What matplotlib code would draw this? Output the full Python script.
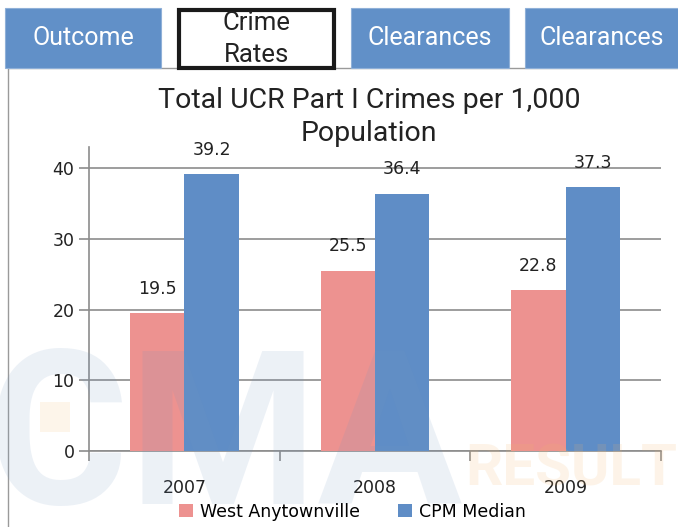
import matplotlib.pyplot as plt
import numpy as np
from matplotlib.patches import Rectangle

# data
years = ["2007", "2008", "2009"]
west_anytownville = [19.5, 25.5, 22.8]
cpm_median = [39.2, 36.4, 37.3]
tab_labels = ["Outcome", "Crime\nRates", "Clearances", "Clearances"]

RED = "#ED9290"
BLUE = "#5F8DC6"
GRID = "#8C8C8C"
NARROW = ["Roboto", "DejaVu Sans"]

W, H = 678, 527
fig = plt.figure(figsize=(W / 100, H / 100), dpi=100)


def fx(px):
    return px / W


def fy(py):
    # image y (top down) -> figure y
    return 1 - py / H


# panel outline under the tabs
fig.patches.append(Rectangle((fx(8), -0.01), 1.0, fy(68) + 0.01,
                             transform=fig.transFigure, facecolor="white",
                             edgecolor="#9a9a9a", lw=1, zorder=-2))

# tabs along the top
tab_x = [(5, 161), (179, 334), (351, 509), (525, 679)]
for (x0, x1), lab in zip(tab_x, tab_labels):
    if "Rates" in lab:
        box = Rectangle((fx(x0), fy(68)), fx(x1 - x0), 58 / H,
                        transform=fig.transFigure, facecolor="white",
                        edgecolor="#1a1a1a", lw=3, zorder=1)
        fig.patches.append(box)
        t = fig.text(fx((x0 + x1) / 2), fy(39), lab, ha="center", va="center",
                     fontsize=18.5, color="#222222", linespacing=1.38, zorder=2,
                     family=NARROW)
        t.set_clip_path(box)
    else:
        fig.patches.append(Rectangle((fx(x0), fy(68)), fx(x1 - x0), 60 / H,
                                     transform=fig.transFigure, facecolor="#6190C8",
                                     edgecolor="#8fb0d8", lw=0.8, zorder=1))
        fig.text(fx((x0 + x1) / 2), fy(38), lab, ha="center", va="center",
                 fontsize=18, color="white", zorder=3, family=NARROW)

ax = fig.add_axes([fx(89), fy(451), fx(661 - 89), (451 - 147) / H])
ax.set_facecolor("none")

x = np.arange(len(years))
bw = 0.285
b1 = ax.bar(x - bw / 2, west_anytownville, bw, color=RED, label="West Anytownville", zorder=3)
b2 = ax.bar(x + bw / 2, cpm_median, bw, color=BLUE, label="CPM Median", zorder=3)

for bars in (b1, b2):
    for rect in bars:
        v = rect.get_height()
        ax.annotate(f"{v:.1f}", (rect.get_x() + rect.get_width() / 2, v),
                    xytext=(0, 11), textcoords="offset points", ha="center",
                    va="bottom", fontsize=12.5, color="#222222")

ax.set_xlim(-0.5, 2.5)
ax.set_ylim(0, 43)
ax.set_yticks([0, 10, 20, 30, 40])
ax.yaxis.grid(True, color=GRID, lw=1.2, zorder=0)
ax.set_xticks(x)
ax.set_xticklabels(years)
ax.set_xticks([-0.5, 0.5, 1.5, 2.5], minor=True)
ax.tick_params(axis="x", which="major", length=0, pad=20, labelsize=12.5, labelcolor="#222222")
ax.tick_params(axis="x", which="minor", length=7, color=GRID, width=1.2)
ax.tick_params(axis="y", length=7, color=GRID, width=1.2, labelsize=12.5, labelcolor="#222222")
for s in ("top", "right"):
    ax.spines[s].set_visible(False)
for s in ("left", "bottom"):
    ax.spines[s].set_color(GRID)
    ax.spines[s].set_linewidth(1.2)

fig.text(fx(369), fy(117), "Total UCR Part I Crimes per 1,000\nPopulation",
         ha="center", va="center", fontsize=20.5, color="#222222", linespacing=1.3,
         family=NARROW)

ax.legend(loc="center", bbox_to_anchor=(0.46, -0.2), ncol=2, frameon=False,
          fontsize=12.5, handlelength=0.8, handleheight=0.8, columnspacing=2.2,
          handletextpad=0.4)

# faint watermark
fig.patches.append(Rectangle((fx(40), fy(432)), fx(30), 30 / H, transform=fig.transFigure,
                             facecolor="#f6c890", alpha=0.18, lw=0, zorder=5))
fig.text(fx(-12), fy(445), "CMA", fontsize=155, fontweight="bold", color="#6f95c0",
         alpha=0.13, ha="left", va="center", zorder=5, family=NARROW)
fig.text(fx(465), fy(470), "RESULTS", fontsize=42, fontweight="bold", color="#f2b46a",
         alpha=0.15, ha="left", va="center", zorder=5, family=NARROW)

fig.savefig("out.png", dpi=100)
